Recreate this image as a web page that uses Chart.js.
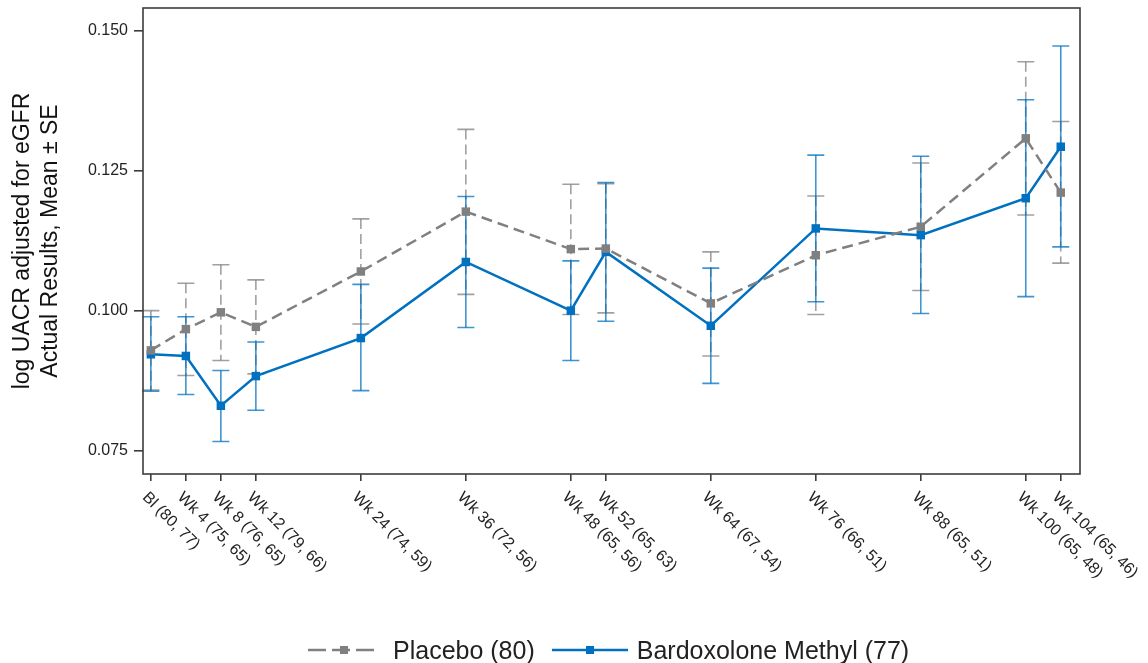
<!DOCTYPE html>
<html>
<head>
<meta charset="utf-8">
<script src="https://cdn.jsdelivr.net/npm/chart.js@4.4.1/dist/chart.umd.min.js"></script>
<style>
  body { margin: 0; background: #fff; font-family: "Liberation Sans", Arial, sans-serif; }
  #wrap { position: relative; width: 1148px; height: 663px; }
  #legend { position: absolute; left: 308px; top: 636px; height: 28px; display: flex; align-items: center; font-size: 25px; color: #222; white-space: nowrap; }
  #legend svg { display: block; }
</style>
</head>
<body>
<div id="wrap">
  <canvas id="uacrChart" width="1148" height="663"></canvas>
  <div id="legend">
    <svg width="72" height="14"><line x1="0" y1="7" x2="72" y2="7" stroke="#808080" stroke-width="2.5" stroke-dasharray="18,6"/><rect x="32" y="3" width="8" height="8" fill="#808080"/></svg>
    <span style="margin-left:13px">Placebo (80)</span>
    <svg width="76" height="14" style="margin-left:17px"><line x1="0" y1="7" x2="76" y2="7" stroke="#0070C0" stroke-width="2.5"/><rect x="34" y="3" width="8" height="8" fill="#0070C0"/></svg>
    <span style="margin-left:9px">Bardoxolone Methyl (77)</span>
  </div>
</div>
<script>
const weeks = [0, 4, 8, 12, 24, 36, 48, 52, 64, 76, 88, 100, 104]
const weekLabels = ['Bl (80, 77)', 'Wk 4 (75, 65)', 'Wk 8 (76, 65)', 'Wk 12 (79, 66)', 'Wk 24 (74, 59)', 'Wk 36 (72, 56)',
  'Wk 48 (65, 56)', 'Wk 52 (65, 63)', 'Wk 64 (67, 54)', 'Wk 76 (66, 51)', 'Wk 88 (65, 51)', 'Wk 100 (65, 48)', 'Wk 104 (65, 46)']
const yTicks = [0.075, 0.100, 0.125, 0.150]

const placeboMean = [0.0929, 0.0967, 0.0997, 0.0971, 0.1070, 0.1177, 0.1110, 0.1111, 0.1013, 0.1099, 0.1150, 0.1308, 0.1211]
const placeboLow  = [0.0858, 0.0884, 0.0911, 0.0887, 0.0976, 0.1029, 0.0993, 0.0996, 0.0919, 0.0993, 0.1036, 0.1171, 0.1085]
const placeboHigh = [0.1000, 0.1049, 0.1082, 0.1055, 0.1164, 0.1324, 0.1226, 0.1227, 0.1105, 0.1205, 0.1264, 0.1445, 0.1338]

const bardMean = [0.0922, 0.0919, 0.0830, 0.0883, 0.0951, 0.1087, 0.1000, 0.1105, 0.0973, 0.1147, 0.1135, 0.1201, 0.1293]
const bardLow  = [0.0856, 0.0850, 0.0766, 0.0822, 0.0857, 0.0970, 0.0911, 0.0981, 0.0870, 0.1016, 0.0995, 0.1025, 0.1114]
const bardHigh = [0.0989, 0.0989, 0.0893, 0.0944, 0.1047, 0.1204, 0.1089, 0.1229, 0.1076, 0.1278, 0.1276, 0.1377, 0.1473]

const toPoints = arr => arr.map((v, i) => ({ x: weeks[i], y: v }))

// mean ± SE whiskers, drawn under the lines
const errorBars = {
  id: 'errorBars',
  beforeDatasetsDraw(chart) {
    const { ctx, scales: { x, y } } = chart
    chart.data.datasets.forEach(ds => {
      ctx.save()
      ctx.strokeStyle = ds.errColor
      ctx.lineWidth = 1.6
      ds.errLow.forEach((lo, i) => {
        const px = x.getPixelForValue(weeks[i])
        const top = y.getPixelForValue(ds.errHigh[i])
        const bot = y.getPixelForValue(lo)
        ctx.setLineDash(ds.errDash)
        ctx.beginPath()
        ctx.moveTo(px, top)
        ctx.lineTo(px, bot)
        ctx.stroke()
        ctx.setLineDash([])
        ctx.beginPath()
        ctx.moveTo(px - 8.5, top); ctx.lineTo(px + 8.5, top)
        ctx.moveTo(px - 8.5, bot); ctx.lineTo(px + 8.5, bot)
        ctx.stroke()
      })
      ctx.restore()
    })
  }
}

// plot frame and slanted week labels
const frameAndLabels = {
  id: 'frameAndLabels',
  afterDraw(chart) {
    const { ctx, chartArea: a, scales: { x } } = chart
    ctx.save()
    ctx.strokeStyle = '#3c3c3c'
    ctx.lineWidth = 1.6
    ctx.strokeRect(a.left, a.top, a.right - a.left, a.bottom - a.top)
    ctx.fillStyle = '#222'
    ctx.font = '16px "Liberation Sans", Arial, sans-serif'
    ctx.textAlign = 'left'
    ctx.textBaseline = 'middle'
    weekLabels.forEach((lab, i) => {
      const px = x.getPixelForValue(weeks[i])
      ctx.save()
      ctx.translate(px - 6, a.bottom + 21)
      ctx.rotate(Math.PI / 4)
      ctx.fillText(lab, 0, 0)
      ctx.restore()
    })
    ctx.restore()
  }
}

const ctx = document.getElementById('uacrChart').getContext('2d')
new Chart(ctx, {
  type: 'line',
  data: {
    datasets: [
      {
        label: 'Placebo (80)',
        data: toPoints(placeboMean),
        errLow: placeboLow,
        errHigh: placeboHigh,
        errColor: 'rgba(128,128,128,0.75)',
        errDash: [10, 5],
        borderColor: '#808080',
        backgroundColor: '#808080',
        borderWidth: 2.5,
        borderDash: [11, 6],
        pointStyle: 'rect',
        pointRadius: 6,
        pointBorderWidth: 0,
        tension: 0
      },
      {
        label: 'Bardoxolone Methyl (77)',
        data: toPoints(bardMean),
        errLow: bardLow,
        errHigh: bardHigh,
        errColor: 'rgba(0,112,192,0.75)',
        errDash: [],
        borderColor: '#0070C0',
        backgroundColor: '#0070C0',
        borderWidth: 2.5,
        pointStyle: 'rect',
        pointRadius: 6,
        pointBorderWidth: 0,
        tension: 0
      }
    ]
  },
  options: {
    responsive: false,
    animation: false,
    layout: { padding: { left: 0, top: 8, right: 68, bottom: 0 } },
    plugins: {
      legend: { display: false },
      tooltip: { enabled: false }
    },
    scales: {
      x: {
        type: 'linear',
        min: -0.9,
        max: 106.2,
        afterBuildTicks: scale => { scale.ticks = weeks.map(v => ({ value: v })) },
        afterFit: scale => { scale.height = 189; scale.paddingLeft = 0; scale.paddingRight = 0 },
        ticks: { display: false },
        border: { display: false },
        grid: { drawOnChartArea: false, tickLength: 7, color: '#3c3c3c', lineWidth: 1.6 }
      },
      y: {
        min: 0.0708,
        max: 0.1541,
        afterBuildTicks: scale => { scale.ticks = yTicks.map(v => ({ value: v })) },
        afterFit: scale => { scale.width = 143; scale.paddingTop = 0; scale.paddingBottom = 0 },
        ticks: {
          color: '#222',
          padding: 6,
          font: { size: 16, family: '"Liberation Sans", Arial, sans-serif' },
          callback: v => v.toFixed(3)
        },
        border: { display: false },
        grid: { drawOnChartArea: false, tickLength: 9, color: '#3c3c3c', lineWidth: 1.6 },
        title: {
          display: true,
          text: ['log UACR adjusted for eGFR', 'Actual Results, Mean \u00b1 SE'],
          color: '#111',
          padding: { top: 8, bottom: 0 },
          font: { size: 23, family: '"Liberation Sans", Arial, sans-serif', lineHeight: 1.25 }
        }
      }
    }
  },
  plugins: [errorBars, frameAndLabels]
})
</script>
</body>
</html>
